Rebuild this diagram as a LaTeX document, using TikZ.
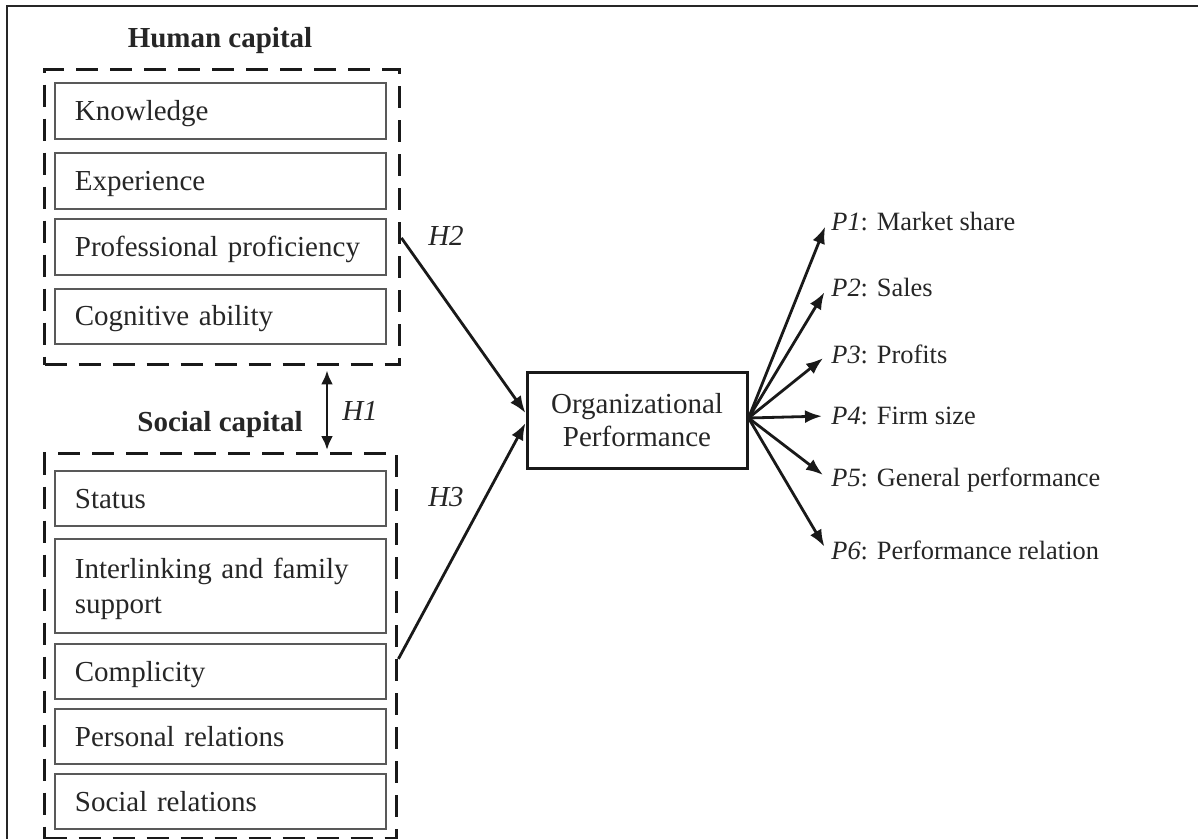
\documentclass[tikz,border=0pt]{standalone}
\usepackage{fontspec}
\setmainfont{Liberation Serif}
\usetikzlibrary{arrows.meta,calc}
\begin{document}
\begin{tikzpicture}[x=0.5pt,y=-0.5pt,
  txt/.style={text=black!85, font=\fontsize{14.5pt}{17.5pt}\selectfont},
  capline/.style={text height=9.6pt, text depth=0pt},
  item/.style={txt, capline, draw=black!65, line width=0.9pt, anchor=north west,
    text width=145.5pt, inner xsep=10pt, inner ysep=0pt, align=left},
  group/.style={draw=black!90, line width=1.7pt, dash pattern=on 11pt off 6pt,
    anchor=north west, inner sep=0pt},
  title/.style={txt, capline, inner sep=0pt, font=\fontsize{14.5pt}{17.5pt}\selectfont\bfseries},
  hyp/.style={txt, capline, inner sep=0pt, font=\fontsize{14.5pt}{17.5pt}\selectfont\itshape},
  plabel/.style={txt, text height=8.7pt, text depth=0pt, anchor=west, inner xsep=2pt,
    inner ysep=0pt, font=\fontsize{13.2pt}{16pt}\selectfont},
  link/.style={line width=1.4pt, draw=black!90, -{Latex[length=8.5pt,width=6.5pt]}},
]
\useasboundingbox (0,0) rectangle (1198,839);

% frame
\draw[line width=1pt, black!85] (7,839) -- (7,6) -- (1198,6);

% human capital group
\node[title] (ht) at (220,37.5) {Human capital};
\node[group, minimum width=177.5pt, minimum height=147.5pt] (hc) at (43,68) {};
\node[item, minimum height=28pt] (kn) at (54,82) {Knowledge};
\node[item, minimum height=28pt] (ex) at (54,152) {Experience};
\node[item, minimum height=28pt] (pr) at (54,218) {Professional proficiency};
\node[item, minimum height=27.5pt] (cg) at (54,288) {Cognitive ability};

% social capital group
\node[title] (st) at (220,422) {Social capital};
\node[group, minimum width=176pt, minimum height=192.5pt] (sc) at (43,452) {};
\node[item, minimum height=27.5pt] (su) at (54,470) {Status};
\node[item, minimum height=47pt, text depth=17.5pt] (il) at (54,538) {Interlinking and family\\support};
\node[item, minimum height=27.5pt] (cp) at (54,643) {Complicity};
\node[item, minimum height=27.5pt] (ps) at (54,708) {Personal relations};
\node[item, minimum height=27.5pt] (sr) at (54,773) {Social relations};

% outcome
\node[txt, draw=black!90, line width=1.5pt, minimum width=110pt, minimum height=48pt,
  align=center, font=\fontsize{14.5pt}{16.5pt}\selectfont] (op) at (637,420)
  {Organizational\\Performance};

% hypotheses
\coordinate (h1x) at (327,0);
\draw[line width=1.4pt, draw=black!90, {Latex[length=7pt,width=6pt]}-{Latex[length=7pt,width=6pt]},
  shorten <=2pt, shorten >=1pt] (hc.south -| h1x) -- (sc.north -| h1x);
\node[hyp] (h1) at (360,411) {H1};

\draw[link] ([yshift=4.5pt]pr.east -| hc.east) -- ([yshift=3.5pt]op.west);
\node[hyp] (h2) at (446,236) {H2};

\draw[link] ([yshift=6.25pt]cp.east -| sc.east) -- ([yshift=-1.5pt]op.west);
\node[hyp] (h3) at (446,497) {H3};

% performance measures
\node[plabel] (p1) at (827,222) {\textit{P1}: Market share};
\node[plabel] (p2) at (827,288) {\textit{P2}: Sales};
\node[plabel] (p3) at (827,355) {\textit{P3}: Profits};
\node[plabel] (p4) at (827,416) {\textit{P4}: Firm size};
\node[plabel] (p5) at (827,478) {\textit{P5}: General performance};
\node[plabel] (p6) at (827,551) {\textit{P6}: Performance relation};

\foreach \p in {p1,p2,p3,p4,p5,p6}
  \draw[link, shorten >=2.5pt] ([yshift=1pt]op.east) -- (\p.west);
\end{tikzpicture}
\end{document}
